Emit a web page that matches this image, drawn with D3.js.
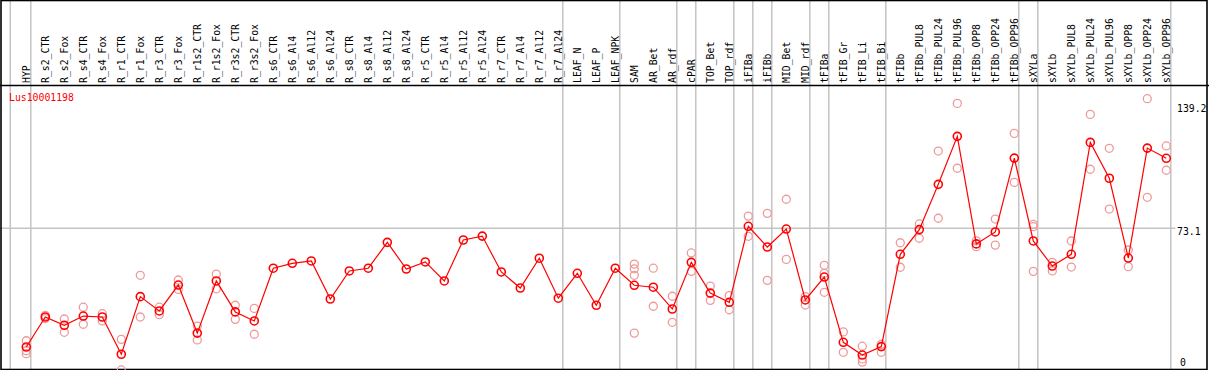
<!DOCTYPE html>
<html>
<head>
<meta charset="utf-8">
<script src="https://cdn.jsdelivr.net/npm/d3@7"></script>
<style>
  body { margin: 0; background: #fff; }
  svg { display: block; }
  text { font-family: "DejaVu Sans Mono", monospace; }
</style>
</head>
<body>
<div id="chart"></div>
<script>
// Amostras (colunas), na ordem da figura
const samples = [
  'HYP',
  'R_s2_CTR', 'R_s2_Fox', 'R_s4_CTR', 'R_s4_Fox', 'R_r1_CTR', 'R_r1_Fox', 'R_r3_CTR', 'R_r3_Fox',
  'R_r1s2_CTR', 'R_r1s2_Fox', 'R_r3s2_CTR', 'R_r3s2_Fox',
  'R_s6_CTR', 'R_s6_Al4', 'R_s6_Al12', 'R_s6_Al24', 'R_s8_CTR', 'R_s8_Al4', 'R_s8_Al12', 'R_s8_Al24',
  'R_r5_CTR', 'R_r5_Al4', 'R_r5_Al12', 'R_r5_Al24', 'R_r7_CTR', 'R_r7_Al4', 'R_r7_Al12', 'R_r7_Al24',
  'LEAF_N', 'LEAF_P', 'LEAF_NPK',
  'SAM', 'AR_Bet', 'AR_rdf',
  'cPAR',
  'TOP_Bet', 'TOP_rdf',
  'iFIBa',
  'iFIBb',
  'MID_Bet', 'MID_rdf',
  'tFIBa',
  'tFIB_Gr', 'tFIB_Li', 'tFIB_Bi',
  'tFIBb', 'tFIBb_PUL8', 'tFIBb_PUL24', 'tFIBb_PUL96', 'tFIBb_OPP8', 'tFIBb_OPP24', 'tFIBb_OPP96',
  'sXYLa',
  'sXYLb', 'sXYLb_PUL8', 'sXYLb_PUL24', 'sXYLb_PUL96', 'sXYLb_OPP8', 'sXYLb_OPP24', 'sXYLb_OPP96'
];

// Valor médio por amostra
const means = [
  12.5,
  27.8, 23.6, 28.3, 27.8, 8.8, 38.2, 30.9, 44.1,
  19.6, 46.2, 30.4, 25.8,
  52.7, 55.2, 56.4, 37.0, 51.3, 52.7, 65.9, 52.3,
  55.9, 46.2, 67.1, 69.1, 50.8, 42.6, 57.8, 37.4,
  50.1, 33.8, 52.7,
  44.0, 43.0, 31.9,
  55.7,
  40.0, 35.3,
  74.1,
  63.5,
  72.7, 36.5,
  48.2,
  14.9, 8.4, 12.7,
  59.8, 72.4, 95.5, 120.0, 65.1, 71.2, 108.9,
  66.6,
  53.8, 59.8, 116.9, 98.6, 57.9, 114.0, 108.8
];

// Réplicas por amostra (vazio onde não há)
const replicates = [
  [15.7, 10.6, 9.1],
  [28.6, 27.0], [26.8, 20.0], [32.8, 24.1], [29.5, 25.8], [16.4, 0.8], [49.1, 27.8], [32.8, 29.0], [46.7, 41.9],
  [23.2, 16.1], [49.7, 42.2], [33.8, 26.6], [32.2, 19.0],
  [], [], [], [], [], [], [], [],
  [], [], [], [], [], [], [], [],
  [], [], [],
  [54.8, 52.4, 49.1, 19.6], [52.7, 33.3], [38.4, 25.1],
  [60.5, 51.1],
  [43.6, 36.3], [38.7, 31.5],
  [79.3, 69.0],
  [80.7, 46.5],
  [87.9, 57.2], [38.2, 33.9],
  [54.2, 50.1, 40.4],
  [20.2, 9.8], [12.9, 6.4, 4.8], [13.9, 9.8],
  [65.7, 53.2], [75.3, 68.0], [112.5, 78.2], [136.8, 103.7], [66.7, 63.7], [77.8, 64.5], [121.5, 96.5],
  [75.1, 73.9, 51.1],
  [55.7, 51.3], [66.6, 53.3], [131.2, 103.2], [113.9, 82.9], [62.0, 53.5], [139.2, 88.9], [115.1, 102.7]
];

// Última amostra de cada grupo (linhas separadoras)
const groupEnds = ['HYP', 'R_r7_Al24', 'LEAF_NPK', 'AR_rdf', 'cPAR', 'TOP_rdf', 'iFIBa', 'iFIBb',
  'MID_rdf', 'tFIBa', 'tFIB_Bi', 'tFIBb_OPP96', 'sXYLa', 'sXYLb_OPP96'];

const yTicks = [139.2, 73.1, 0];
const geneName = 'Lus10001198';

// Dimensões
const width = 1209, height = 370;
const headerBottom = 85.5;
const plotBottom = 369.5;

const svg = d3.select('#chart').append('svg')
  .attr('width', width)
  .attr('height', height);

// Escalas
const x = d3.scalePoint()
  .domain(samples)
  .range([26.3, 1166.3]);

const y = d3.scaleLinear()
  .domain([0, 139.2])
  .range([371.5, 98.7]);

const step = x.step();

// Separadores verticais de grupos
const sepX = [x(samples[0]) - 16].concat(groupEnds.map(s => x(s) + 4.5));
svg.selectAll('.sep')
  .data(sepX)
  .enter()
  .append('line')
  .attr('x1', d => d).attr('x2', d => d)
  .attr('y1', 0).attr('y2', plotBottom)
  .attr('stroke', '#c4c4c4')
  .attr('stroke-width', 1.5);

// Linha horizontal em 73.1
svg.append('line')
  .attr('x1', 0).attr('x2', x(samples[samples.length - 1]) + 9)
  .attr('y1', y(73.1)).attr('y2', y(73.1))
  .attr('stroke', '#c4c4c4')
  .attr('stroke-width', 1.5);

// Moldura e linha do cabeçalho
svg.append('rect')
  .attr('x', 1).attr('y', 0.5)
  .attr('width', 1206).attr('height', plotBottom - 0.5)
  .attr('fill', 'none')
  .attr('stroke', '#000')
  .attr('stroke-width', 1.6);

svg.append('line')
  .attr('x1', 0).attr('x2', width)
  .attr('y1', headerBottom).attr('y2', headerBottom)
  .attr('stroke', '#000')
  .attr('stroke-width', 1.5);

// Rótulos das amostras (verticais)
svg.selectAll('.sample-label')
  .data(samples)
  .enter()
  .append('text')
  .attr('class', 'sample-label')
  .attr('transform', d => `translate(${x(d) + 4},83) rotate(-90)`)
  .style('font-size', '9.8px')
  .style('fill', '#000')
  .text(d => d);

// Nome do gene
svg.append('text')
  .attr('x', 9)
  .attr('y', 101)
  .style('font-size', '9.8px')
  .style('fill', 'red')
  .text(geneName);

// Rótulos do eixo y
svg.selectAll('.y-label')
  .data(yTicks)
  .enter()
  .append('text')
  .attr('class', 'y-label')
  .attr('x', d => d === 0 ? 1180 : 1177)
  .attr('y', d => Math.min(Math.max(y(d) + 6.3, y(139.2) + 13), y(0) - 5.5))
  .style('font-size', '9.8px')
  .style('fill', '#000')
  .text(d => d);

// Réplicas
const repData = samples.flatMap((s, i) => replicates[i].map(v => ({ s, v })));
svg.selectAll('.rep')
  .data(repData)
  .enter()
  .append('circle')
  .attr('class', 'rep')
  .attr('cx', d => x(d.s))
  .attr('cy', d => y(d.v))
  .attr('r', 4)
  .attr('fill', 'none')
  .attr('stroke', '#ee9a9a')
  .attr('stroke-width', 1.3);

// Linha das médias
const line = d3.line()
  .x((d, i) => x(samples[i]))
  .y(d => y(d));

svg.append('path')
  .datum(means)
  .attr('d', line)
  .attr('fill', 'none')
  .attr('stroke', 'red')
  .attr('stroke-width', 1.2);

// Pontos das médias
svg.selectAll('.mean')
  .data(means)
  .enter()
  .append('circle')
  .attr('class', 'mean')
  .attr('cx', (d, i) => x(samples[i]))
  .attr('cy', d => y(d))
  .attr('r', 4)
  .attr('fill', 'none')
  .attr('stroke', 'red')
  .attr('stroke-width', 1.6);
</script>
</body>
</html>
